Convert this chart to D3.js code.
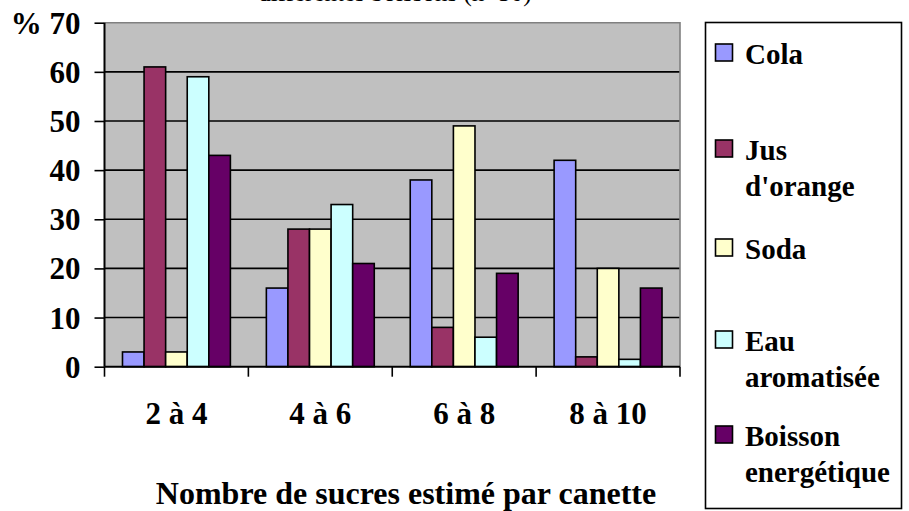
<!DOCTYPE html>
<html>
<head>
<meta charset="utf-8">
<script src="https://cdn.jsdelivr.net/npm/d3@7/dist/d3.min.js"></script>
<style>
  html, body { margin: 0; padding: 0; background: #ffffff; }
  svg { display: block; }
  svg text { font-family: "Liberation Serif", Tinos, "Times New Roman", Times, serif; font-weight: bold; fill: #000; }
</style>
</head>
<body>
<svg id="chart" width="909" height="511"></svg>
<script>
// Sugar-count ranges per can
const categories = ["2 à 4", "4 à 6", "6 à 8", "8 à 10"];

// Percentages of answers per drink
const series = ["Cola", "Jus d'orange", "Soda", "Eau aromatisée", "Boisson energétique"];
const cola      = [3, 16, 38, 42];
const jus       = [61, 28, 8, 2];
const soda      = [3, 28, 49, 20];
const eau       = [59, 33, 6, 1.5];
const boisson   = [43, 21, 19, 16];

// Legend lines (wrapped as shown in the legend box)
const legendLines = [["Cola"], ["Jus", "d'orange"], ["Soda"], ["Eau", "aromatisée"], ["Boisson", "energétique"]];

const yTicks = [0, 10, 20, 30, 40, 50, 60, 70];
const titleText = "différentes boissons (n=50)";
const xTitle = "Nombre de sucres estimé par canette";

const colors = ["#9999FF", "#993366", "#FFFFCC", "#CCFFFF", "#660066"];
const values = [cola, jus, soda, eau, boisson];

const FONT = "'Liberation Serif', Tinos, 'Times New Roman', Times, serif";

const svg = d3.select("#chart");

const plot = { left: 104.5, right: 680, top: 22.7, bottom: 366.7 };

const x0 = d3.scaleBand().domain(categories).range([plot.left, plot.right]);
const bw = x0.bandwidth();
const x1 = d3.scaleBand().domain(series).range([bw * 0.125, bw * 0.875]);
const y = d3.scaleLinear().domain([0, 70]).range([plot.bottom, plot.top]);
const color = d3.scaleOrdinal().domain(series).range(colors);

// Title (its upper part falls outside the frame)
svg.append("text")
  .attr("x", 395).attr("y", 0.5)
  .attr("text-anchor", "middle")
  .style("font-family", FONT)
  .style("font-size", "25px")
  .style("font-weight", "normal")
  .text(titleText);

// Plot background
svg.append("rect")
  .attr("x", plot.left).attr("y", plot.top)
  .attr("width", plot.right - plot.left).attr("height", plot.bottom - plot.top)
  .attr("fill", "#C0C0C0");

// Grid lines
svg.append("g").selectAll("line")
  .data(yTicks.filter(t => t > 0 && t < 70))
  .join("line")
  .attr("x1", plot.left).attr("x2", plot.right)
  .attr("y1", d => y(d)).attr("y2", d => y(d))
  .attr("stroke", "#000").attr("stroke-width", 1.6);

// Top and right frame edges
svg.append("path")
  .attr("d", `M${plot.left},${plot.top}H${plot.right}V${plot.bottom}`)
  .attr("fill", "none").attr("stroke", "#808080").attr("stroke-width", 1.6);

// Bars
const rows = categories.map((c, i) => ({ cat: c, vals: series.map((s, j) => ({ s, v: values[j][i] })) }));
svg.append("g").selectAll("g")
  .data(rows)
  .join("g")
  .attr("transform", d => `translate(${x0(d.cat)},0)`)
  .selectAll("rect")
  .data(d => d.vals)
  .join("rect")
  .attr("x", d => x1(d.s))
  .attr("width", x1.bandwidth())
  .attr("y", d => y(d.v))
  .attr("height", d => y(0) - y(d.v))
  .attr("fill", d => color(d.s))
  .attr("stroke", "#000").attr("stroke-width", 1.6);

// Y axis
const yAxis = d3.axisLeft(y).tickValues(yTicks).tickSize(10).tickPadding(14)
  .tickFormat(d => d === 70 ? "% 70" : d);
const gy = svg.append("g").attr("transform", `translate(${plot.left},0)`).call(yAxis);
gy.attr("font-family", null).attr("font-size", null);
gy.select(".domain").attr("stroke", "#000").attr("stroke-width", 2).attr("d", `M0,${plot.top}V${plot.bottom}`);
gy.selectAll(".tick line").attr("stroke", "#000").attr("stroke-width", 1.6).attr("x2", -10);
gy.selectAll(".tick text")
  .style("font-family", FONT)
  .style("font-weight", "bold").style("font-size", "31px").attr("fill", "#000")
  .attr("dy", "0.34em");

// X axis
const gx = svg.append("g").attr("transform", `translate(0,${plot.bottom})`);
gx.append("line")
  .attr("x1", plot.left).attr("x2", plot.right)
  .attr("stroke", "#000").attr("stroke-width", 2);
gx.selectAll("line.tk")
  .data(categories.map(c => x0(c)).concat([plot.right]))
  .join("line").attr("class", "tk")
  .attr("x1", d => d).attr("x2", d => d)
  .attr("y1", 0).attr("y2", 10)
  .attr("stroke", "#000").attr("stroke-width", 1.6);
gx.selectAll("text")
  .data(categories)
  .join("text")
  .attr("x", d => x0(d) + bw / 2)
  .attr("y", 57)
  .attr("text-anchor", "middle")
  .style("font-family", FONT)
  .style("font-size", "31px")
  .text(d => d);

// X axis title
svg.append("text")
  .attr("x", 406).attr("y", 504)
  .attr("text-anchor", "middle")
  .style("font-family", FONT)
  .style("font-size", "32px")
  .text(xTitle);

// Legend
const legend = svg.append("g");
legend.append("rect")
  .attr("x", 705.5).attr("y", 22.5).attr("width", 196).attr("height", 486)
  .attr("fill", "#fff").attr("stroke", "#000").attr("stroke-width", 1.6);

const baselines = [64, 160, 259, 351, 446];
const lineGap = 36;
const items = legend.selectAll("g.item")
  .data(series.map((s, i) => ({ s, lines: legendLines[i], b: baselines[i] })))
  .join("g").attr("class", "item");
items.append("rect")
  .attr("x", 715.5).attr("y", d => d.b - 20)
  .attr("width", 17).attr("height", 17)
  .attr("fill", d => color(d.s))
  .attr("stroke", "#000").attr("stroke-width", 1.6);
items.each(function(d) {
  d3.select(this).selectAll("text")
    .data(d.lines)
    .join("text")
    .attr("x", 745)
    .attr("y", (t, k) => d.b + k * lineGap)
    .style("font-family", FONT)
    .style("font-size", "29px")
    .text(t => t);
});
</script>
</body>
</html>
